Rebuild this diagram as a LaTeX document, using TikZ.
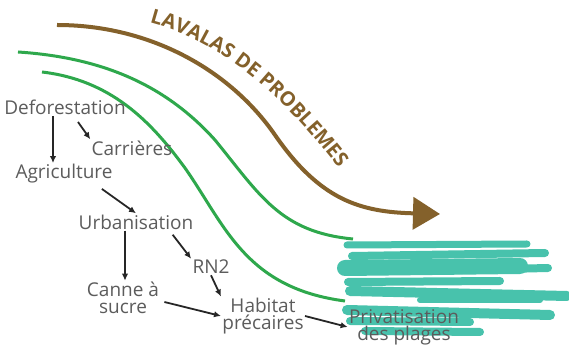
\documentclass[tikz,border=0pt]{standalone}
\usepackage{fontspec}
\setmainfont{Open Sans}
\usetikzlibrary{arrows.meta,decorations.text}
\definecolor{mud}{HTML}{84612B}
\definecolor{leaf}{HTML}{2EA84C}
\definecolor{lagoon}{HTML}{48C2AC}
\definecolor{ink}{HTML}{5C5C5C}
\begin{document}
\begin{tikzpicture}[x=0.5pt,y=-0.5pt,
  lbl/.style={text=ink, font=\fontsize{9.5}{8.5}\selectfont, align=center, inner sep=0.5pt},
  link/.style={-{Latex[length=3.5pt,width=3.2pt]}, line width=0.9pt, draw=black!85},
  ridge/.style={leaf, line width=1.5pt},
  scribble/.style={lagoon, line cap=round}]
\useasboundingbox[fill=white] (0,0) rectangle (569,352);

% lagoon scribbles
\draw[scribble, line width=3.5pt] (347,245) -- (527,244);
\draw[scribble, line width=4pt] (352,256) -- (545,253);
\draw[scribble, line width=8pt] (345,268) -- (520,266);
\draw[scribble, line width=4pt] (420,271) -- (548,268);
\draw[scribble, line width=4pt] (348,282) -- (500,281);
\draw[scribble, line width=5pt] (350,291) -- (567,296);
\draw[scribble, line width=3pt] (420,300) -- (540,300);
\draw[scribble, line width=5pt] (347,310) -- (550,315);
\draw[scribble, line width=4pt] (350,321) -- (470,322);
\draw[scribble, line width=4pt] (365,331) -- (480,332);

% coastline ridges
\draw[ridge] (18,52) .. controls (110,58) and (170,90) .. (215,140)
  .. controls (260,195) and (280,232) .. (353,239);
\draw[ridge] (42,72) .. controls (110,80) and (150,120) .. (185,168)
  .. controls (225,225) and (245,288) .. (345,301);

% flow of problems
\draw[mud, line width=2pt, -{Triangle[length=13.5pt,width=16pt]}]
  (57,25) .. controls (150,25) and (230,70) .. (275,135)
  .. controls (320,200) and (360,212) .. (440,214);
\path[decorate, decoration={text along path, text align=center,
  text={|\bfseries\color{mud}\fontsize{10}{12}\selectfont|LAVALAS DE PROBLEMES}}]
  (128,18) .. controls (215,32) and (285,95) .. (352,186);

% causes
\node[lbl] (defo) at (65,107) {Deforestation};
\node[lbl] (carr) at (132,148) {Carrières};
\node[lbl] (agri) at (64,174) {Agriculture};
\node[lbl] (urba) at (136,222) {Urbanisation};
\node[lbl] (rn)   at (211,267) {RN2};
\node[lbl] (cann) at (123,298) {Canne à\\sucre};
\node[lbl] (habi) at (263,316) {Habitat\\précaires};
\node[lbl] (priv) at (404,327) {Privatisation\\des plages};

\draw[link] (defo.south -| 53,0) -- (agri.north -| 53,0);
\draw[link] (78,122) -- (carr.north west);
\draw[link] (agri.south east) ++(-12,4) -- (urba.north);
\draw[link] (urba.south -| 125,0) -- (cann.north -| 125,0);
\draw[link] (urba.south east) ++(-22,4) -- (rn.north west);
\draw[link] (rn.south) -- (habi.north west);
\draw[link] (cann.east) ++(4,4) -- (habi.west);
\draw[link] (habi.east) -- (priv.west);
\end{tikzpicture}
\end{document}
